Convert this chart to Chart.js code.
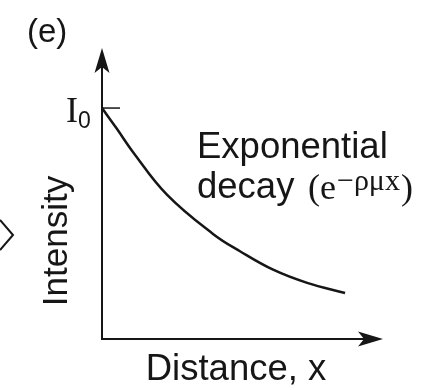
<!DOCTYPE html>
<html>
<head>
<meta charset="utf-8">
<script src="https://cdn.jsdelivr.net/npm/chart.js@4"></script>
<style>
  html, body { margin: 0; padding: 0; background: #fff; }
  #wrap { width: 427px; height: 390px; }
</style>
</head>
<body>
<div id="wrap"><canvas id="decayChart" width="427" height="390"></canvas></div>
<script>
// Intensity vs distance
const distance  = [0, 0.53, 1.10, 2.31, 3.95, 4.91, 6.09, 7.30, 8.65];
const intensity = [1.0, 0.91, 0.81, 0.625, 0.455, 0.38, 0.30, 0.243, 0.199];
const I0 = 1.0;
const xRange = [0, 10];
const yRange = [0, 1.26];

const SANS = '"Liberation Sans", Arial, sans-serif';
const SERIF = '"Liberation Serif", "Times New Roman", serif';
const INK = '#161616';

function arrowHead(ctx, tx, ty, dx, dy) {
    // barbed head pointing along (dx, dy)
    const len = 25, half = 7.5, notch = 19;
    const px = -dy, py = dx;
    ctx.beginPath();
    ctx.moveTo(tx, ty);
    ctx.lineTo(tx - dx * len + px * half, ty - dy * len + py * half);
    ctx.lineTo(tx - dx * notch, ty - dy * notch);
    ctx.lineTo(tx - dx * len - px * half, ty - dy * len - py * half);
    ctx.closePath();
    ctx.fill();
}

const axesPlugin = {
    id: 'arrowAxes',
    beforeDatasetsDraw(chart) {
        const { ctx, chartArea: a, scales } = chart;
        ctx.save();
        ctx.strokeStyle = INK;
        ctx.fillStyle = INK;
        ctx.lineWidth = 2;
        ctx.beginPath();
        ctx.moveTo(a.left, a.top + 18);
        ctx.lineTo(a.left, a.bottom);
        ctx.lineTo(a.right - 18, a.bottom);
        ctx.stroke();
        arrowHead(ctx, a.left, a.top, 0, -1);
        arrowHead(ctx, a.right, a.bottom, 1, 0);

        // I0 tick
        const yI0 = scales.y.getPixelForValue(I0);
        ctx.lineWidth = 1.5;
        ctx.beginPath();
        ctx.moveTo(a.left, yI0);
        ctx.lineTo(a.left + 18, yI0);
        ctx.stroke();
        ctx.restore();
    },
    afterDraw(chart) {
        const { ctx, scales } = chart;
        const yI0 = scales.y.getPixelForValue(I0);
        ctx.save();
        ctx.fillStyle = INK;
        ctx.textBaseline = 'alphabetic';

        ctx.font = '33px ' + SANS;
        ctx.fillText('(e)', 27, 42);

        // I0 label
        ctx.font = '36px ' + SERIF;
        ctx.fillText('I', 66, yI0 + 14);
        ctx.font = '23px ' + SANS;
        ctx.fillText('0', 78, yI0 + 20);

        // curve annotation
        ctx.font = '36.5px ' + SANS;
        ctx.fillText('Exponential', 197, 158);
        ctx.fillText('decay', 197, 198);
        let x = 308;
        ctx.font = '36px ' + SERIF;
        ctx.fillText('(e', x, 199);
        x += ctx.measureText('(e').width + 1;
        ctx.font = '30px ' + SERIF;
        ctx.fillText('\u2212\u03c1\u03bcx', x, 190);
        x += ctx.measureText('\u2212\u03c1\u03bcx').width + 1;
        ctx.font = '36px ' + SERIF;
        ctx.fillText(')', x, 199);

        // axis titles
        ctx.font = '36.5px ' + SANS;
        ctx.textAlign = 'center';
        ctx.fillText('Distance, x', 236, 380);
        ctx.font = '35px ' + SANS;
        ctx.save();
        ctx.translate(67, 241);
        ctx.rotate(-Math.PI / 2);
        ctx.fillText('Intensity', 0, 0);
        ctx.restore();

        // chevron from the neighbouring panel
        ctx.strokeStyle = INK;
        ctx.lineWidth = 2;
        ctx.beginPath();
        ctx.moveTo(0, 220);
        ctx.lineTo(13, 235);
        ctx.lineTo(0, 250);
        ctx.stroke();
        ctx.restore();
    }
};

const points = distance.map((d, i) => ({ x: d, y: intensity[i] }));

new Chart(document.getElementById('decayChart').getContext('2d'), {
    type: 'line',
    data: {
        datasets: [{
            label: 'Intensity',
            data: points,
            borderColor: INK,
            borderWidth: 2.5,
            pointRadius: 0,
            fill: false,
            tension: 0.4
        }]
    },
    options: {
        responsive: false,
        animation: false,
        devicePixelRatio: 1,
        layout: { padding: { left: 102, right: 44, top: 48, bottom: 51 } },
        plugins: { legend: { display: false }, tooltip: { enabled: false } },
        scales: {
            x: { type: 'linear', min: xRange[0], max: xRange[1], display: false },
            y: { type: 'linear', min: yRange[0], max: yRange[1], display: false }
        }
    },
    plugins: [axesPlugin]
});
</script>
</body>
</html>
